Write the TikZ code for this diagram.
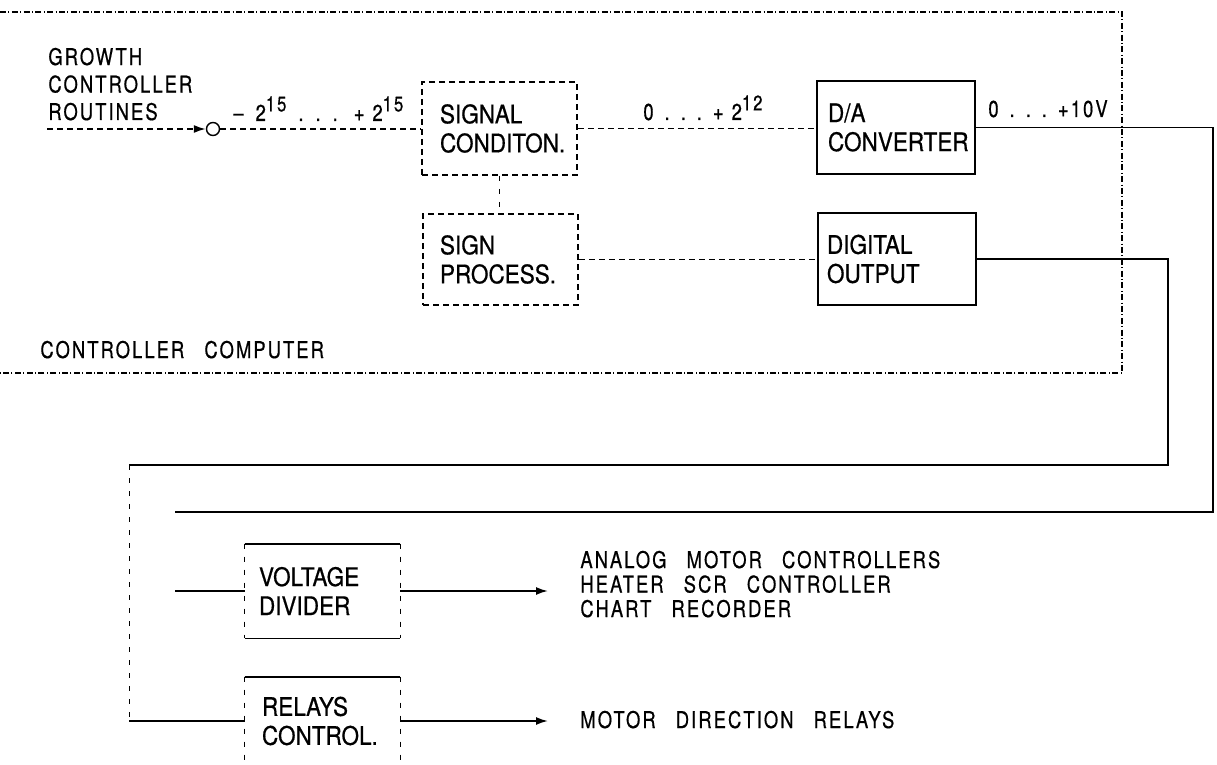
\documentclass[tikz,border=0pt]{standalone}
\usepackage{fontspec}
\setmainfont{TeX Gyre Heros}[FakeStretch=0.88,FakeBold=0.6]
\newfontfamily\lblfont{TeX Gyre Heros}[FakeStretch=0.8,FakeBold=0.6,LetterSpace=9,WordSpace=2.8]
\usetikzlibrary{arrows.meta}
\newcommand{\dotgap}{\hspace{5.5pt}}
\newcommand{\supnum}[1]{\raisebox{0.8ex}{\fontsize{10.5}{10.5}\selectfont #1}}
\begin{document}
\begin{tikzpicture}[x=0.5pt,y=-0.5pt,
  wire/.style={line width=0.9pt},
  dwire/.style={line width=0.9pt, dash pattern=on 3pt off 2pt},
  thindash/.style={line width=0.4pt, dash pattern=on 2.5pt off 4pt},
  frame/.style={line width=0.6pt, dash pattern=on 3pt off 1.2pt on 0.5pt off 1.2pt},
  boxtxt/.style={font=\fontsize{12.8}{14.5}\selectfont, align=left, inner ysep=0pt},
  lbl/.style={font=\lblfont\fontsize{11.5}{13.75}\selectfont, align=left, inner sep=0pt},
  tip/.style={-{Latex[length=6pt,width=4pt]}},
]
\useasboundingbox (0,0) rectangle (1217,765);

% controller computer frame
\coordinate (f1) at (0,12);
\coordinate (f2) at (1122,12);
\coordinate (f3) at (1122,373);
\coordinate (f4) at (0,373);
\draw[frame] (f1) -- (f2) -- (f3) -- (f4);
\node[lbl, anchor=base west] (cc) at (40,358) {CONTROLLER COMPUTER};

% input text (base anchor = last line)
\node[lbl, anchor=base west] (gcr) at (48,120) {GROWTH\\CONTROLLER\\ROUTINES};

% boxes
\node[boxtxt, draw, dwire, minimum width=77.5pt, minimum height=46.5pt, text width=59.5pt, inner xsep=9pt] (sig) at (499.5,128.5) {SIGNAL\\CONDITON.};
\node[boxtxt, draw, wire, minimum width=79pt, minimum height=46.5pt, text width=68pt, inner xsep=5.5pt] (da) at (896,127.5) {D/A\\CONVERTER};
\node[boxtxt, draw, dwire, minimum width=77.5pt, minimum height=45.5pt, text width=60.5pt, inner xsep=8.5pt] (sgn) at (500.5,259.5) {SIGN\\PROCESS.};
\node[boxtxt, draw, wire, minimum width=79pt, minimum height=46pt, text width=70pt, inner xsep=4.5pt] (dig) at (897,259) {DIGITAL\\OUTPUT};
\node[boxtxt, minimum width=77.5pt, minimum height=47pt, text width=63.5pt, inner xsep=7pt] (vd) at (322.5,591) {VOLTAGE\\DIVIDER};
\node[boxtxt, minimum width=77.5pt, minimum height=44pt, text width=60.5pt, inner xsep=8.5pt] (rc) at (322.5,721) {RELAYS\\CONTROL.};

% half-drawn boxes
\draw[wire] (vd.north west) -- (vd.north east);
\draw[wire] (vd.south west) -- (vd.south east);
\draw[thindash] (vd.north west) -- (vd.south west);
\draw[thindash] (vd.north east) -- (vd.south east);
\draw[wire] (rc.north west) -- (rc.north east);
\draw[thindash] (rc.north west) -- (rc.south west);
\draw[thindash] (rc.north east) -- (rc.south east);

% switch symbol and input
\coordinate (in) at (47,129);
\node[circle, draw, line width=0.7pt, minimum size=6.5pt, inner sep=0pt] (sw) at (213,129) {};
\draw[dwire, tip] (in) -- (sw.west);
\draw[dwire] (sw.east) -- (sw.east -| sig.west);

% range labels
\node[lbl, anchor=base west] (r15) at (233,121) {\textendash\hspace{6pt}2\supnum{15}\hspace{6pt}.\hspace{6pt}.\hspace{6pt}.\hspace{8pt}+\hspace{4pt}2\supnum{15}};
\node[lbl, anchor=base west] (r12) at (643,120) {0\hspace{5.5pt}.\hspace{5.5pt}.\hspace{5.5pt}.\hspace{5.5pt}+\hspace{4pt}2\supnum{12}};
\node[lbl, anchor=base west] (r10) at (988,117) {0\dotgap.\dotgap.\dotgap.\dotgap+10V};

% internal connections
\draw[dwire] (sig.east) -- (sig.east -| da.west);
\draw[thindash] (sig.south) -- (sig.south |- sgn.north);
\draw[dwire] (sgn.east) -- (sgn.east -| dig.west);

% output wiring
\coordinate (r1) at (1213,512);
\coordinate (e1) at (175,512);
\draw[wire] (da.east) -| (r1) -- (e1);
\coordinate (r2) at (1168,465);
\coordinate (e2) at (129,465);
\coordinate (e3) at (129,721);
\draw[wire] (dig.east) -| (r2) -- (e2);
\draw[thindash] (e2) -- (e3);
\draw[wire] (e3) -- (rc.west);
\coordinate (e4) at (175,591);
\draw[wire] (e4) -- (vd.west);

% outputs
\node[lbl, anchor=base west, font=\lblfont\fontsize{11.5}{12.25}\selectfont] (out1) at (580,617) {ANALOG MOTOR CONTROLLERS\\HEATER SCR CONTROLLER\\CHART RECORDER};
\node[lbl, anchor=base west] (out2) at (580,728) {MOTOR DIRECTION RELAYS};
\draw[wire, tip, shorten >=16pt] (vd.east) -- (vd.east -| out1.west);
\draw[wire, tip, shorten >=16pt] (rc.east) -- (rc.east -| out2.west);
\end{tikzpicture}
\end{document}
